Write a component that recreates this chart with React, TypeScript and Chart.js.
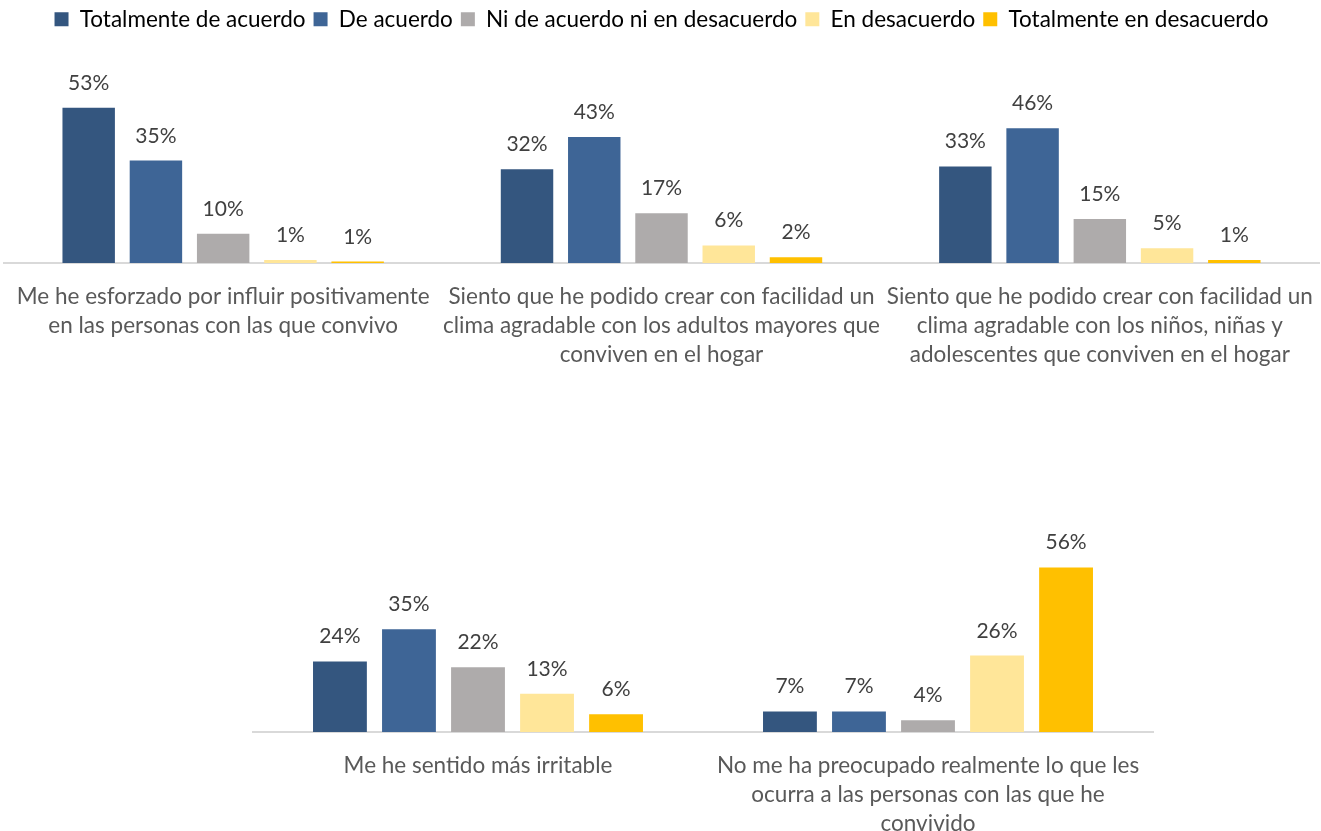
import React, { useEffect, useRef } from "react";
import { Chart, registerables } from "chart.js";

Chart.register(...registerables);

const seriesNames = [
  "Totalmente de acuerdo",
  "De acuerdo",
  "Ni de acuerdo ni en desacuerdo",
  "En desacuerdo",
  "Totalmente en desacuerdo",
];
const seriesColors = ["#34567f", "#3e6596", "#aeabab", "#ffe699", "#ffc000"];

const topCategories = [
  ["Me he esforzado por influir positivamente", "en las personas con las que convivo"],
  ["Siento que he podido crear con facilidad un", "clima agradable con los adultos mayores que", "conviven en el hogar"],
  ["Siento que he podido crear con facilidad un", "clima agradable con los niños, niñas y", "adolescentes que conviven en el hogar"],
];
const topTotalmenteAcuerdo = [53, 32, 33];
const topDeAcuerdo = [35, 43, 46];
const topNi = [10, 17, 15];
const topDesacuerdo = [1, 6, 5];
const topTotalmenteDesacuerdo = [0.5, 2, 1];

const bottomCategories = [
  ["Me he sentido más irritable"],
  ["No me ha preocupado realmente lo que les", "ocurra a las personas con las que he", "convivido"],
];
const bottomTotalmenteAcuerdo = [24, 7];
const bottomDeAcuerdo = [35, 7];
const bottomNi = [22, 4];
const bottomDesacuerdo = [13, 26];
const bottomTotalmenteDesacuerdo = [6, 56];

const FONT = "Lato";
const EXTRA = 60;

const labelPlugin = {
  id: "barLabels",
  afterDatasetsDraw(chart: any) {
    const ctx = chart.ctx;
    ctx.save();
    ctx.font = `21px ${FONT}`;
    ctx.fillStyle = "#404040";
    ctx.textAlign = "center";
    ctx.textBaseline = "alphabetic";
    chart.data.datasets.forEach((ds: any, i: number) => {
      const meta = chart.getDatasetMeta(i);
      meta.data.forEach((bar: any, j: number) => {
        const v = ds.data[j];
        ctx.fillText(Math.round(v) + "%", bar.x, bar.y - 18);
      });
    });
    ctx.restore();
  },
};

function makeConfig(labels: any, values: number[][], showLegend: boolean, yMax: number, padLeft: number, padRight: number): any {
  return {
    type: "bar",
    data: {
      labels,
      datasets: values.map((d, i) => ({
        label: seriesNames[i],
        data: d,
        backgroundColor: seriesColors[i],
        borderWidth: 0,
        categoryPercentage: 0.767,
        barPercentage: 0.78,
      })),
    },
    options: {
      responsive: false,
      animation: false,
      layout: { padding: { left: padLeft, right: padRight, top: 0, bottom: 0 } },
      plugins: {
        legend: {
          display: showLegend,
          position: "top",
          labels: {
            boxWidth: 14,
            boxHeight: 14,
            padding: 8,
            color: "#000000",
            font: { family: FONT, size: 22.5 },
          },
        },
        tooltip: { enabled: false },
      },
      scales: {
        x: {
          grid: { display: false, drawTicks: false, tickLength: 0 },
          border: { display: true, color: "#d9d9d9", width: 2 },
          ticks: {
            color: "#595959",
            font: { family: FONT, size: 22.5, lineHeight: "29px" },
            padding: 19.5,
            autoSkip: false,
            maxRotation: 0,
            minRotation: 0,
          },
        },
        y: {
          display: false,
          min: 0,
          max: yMax,
        },
      },
    },
    plugins: [labelPlugin],
  };
}

export default function App() {
  const topRef = useRef<HTMLCanvasElement>(null);
  const bottomRef = useRef<HTMLCanvasElement>(null);

  useEffect(() => {
    const top = new Chart(
      topRef.current as HTMLCanvasElement,
      makeConfig(
        topCategories,
        [topTotalmenteAcuerdo, topDeAcuerdo, topNi, topDesacuerdo, topTotalmenteDesacuerdo],
        true,
        76,
        EXTRA + 4,
        EXTRA + 2
      )
    );
    const bottom = new Chart(
      bottomRef.current as HTMLCanvasElement,
      makeConfig(
        bottomCategories,
        [bottomTotalmenteAcuerdo, bottomDeAcuerdo, bottomNi, bottomDesacuerdo, bottomTotalmenteDesacuerdo],
        false,
        106.2,
        EXTRA,
        EXTRA
      )
    );
    return () => {
      top.destroy();
      bottom.destroy();
    };
  }, []);

  return (
    <div style={{ position: "fixed", left: 0, top: 0, width: 1321, height: 831, overflow: "hidden", background: "#ffffff" }}>
      <canvas ref={topRef} width={1321 + 2 * EXTRA} height={389} style={{ position: "absolute", left: -EXTRA, top: 0 }} />
      <canvas ref={bottomRef} width={900 + 2 * EXTRA} height={438} style={{ position: "absolute", left: 253 - EXTRA, top: 420 }} />
    </div>
  );
}
